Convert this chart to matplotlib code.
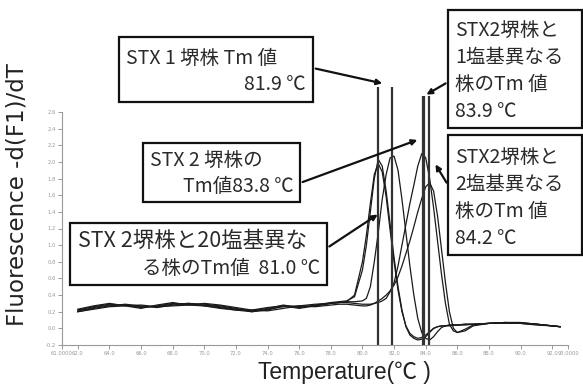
import matplotlib
matplotlib.use("Agg")
import matplotlib.pyplot as plt
from matplotlib.patches import Rectangle

# ---------------- data ----------------
temps = [62, 63, 64, 65, 66, 67, 68, 69, 70, 71, 72, 73, 74, 75, 76, 77, 78, 78.5,
         79, 79.5, 80, 80.25, 80.5, 80.75, 81, 81.25, 81.5, 81.75, 82, 82.25, 82.5, 82.75,
         83, 83.25, 83.5, 83.75, 84, 84.25, 84.5, 84.75, 85, 85.25, 85.5, 85.75, 86,
         86.5, 87, 88, 89, 90, 91, 92, 92.5]

curve_a = [0.22, 0.26, 0.29, 0.28, 0.25, 0.27, 0.30, 0.29, 0.28, 0.26, 0.23, 0.21, 0.24, 0.28, 0.25, 0.28, 0.31, 0.32,
           0.33, 0.38, 0.70, 1.00, 1.40, 1.80, 2.03, 1.95, 1.65, 1.25, 0.85, 0.50, 0.22, 0.02,
           -0.08, -0.12, -0.14, -0.13, -0.10, -0.05, 0.00, 0.02, 0.03, 0.03, 0.04, 0.04, 0.04,
           0.05, 0.05, 0.06, 0.07, 0.06, 0.04, 0.03, 0.02]
curve_a2 = [0.20, 0.24, 0.27, 0.29, 0.27, 0.25, 0.28, 0.30, 0.27, 0.24, 0.22, 0.20, 0.23, 0.26, 0.27, 0.29, 0.30, 0.31,
            0.32, 0.40, 0.80, 1.12, 1.50, 1.85, 1.98, 1.88, 1.58, 1.18, 0.80, 0.46, 0.20, 0.03,
            -0.06, -0.10, -0.12, -0.11, -0.08, -0.04, 0.00, 0.02, 0.03, 0.03, 0.03, 0.04, 0.04,
            0.04, 0.05, 0.06, 0.06, 0.06, 0.05, 0.03, 0.02]
curve_b = [0.23, 0.27, 0.30, 0.27, 0.24, 0.28, 0.31, 0.28, 0.27, 0.25, 0.22, 0.22, 0.25, 0.27, 0.24, 0.27, 0.30, 0.31,
           0.32, 0.32, 0.33, 0.36, 0.50, 0.80, 1.15, 1.55, 1.85, 2.05, 2.07, 1.90, 1.55, 1.15,
           0.75, 0.40, 0.12, -0.05, -0.12, -0.14, -0.10, -0.04, 0.01, 0.03, 0.04, 0.04, 0.04,
           0.05, 0.05, 0.06, 0.07, 0.07, 0.05, 0.03, 0.02]
curve_c = [0.21, 0.25, 0.28, 0.28, 0.26, 0.26, 0.29, 0.30, 0.29, 0.27, 0.24, 0.20, 0.22, 0.27, 0.26, 0.27, 0.30, 0.31,
           0.31, 0.30, 0.29, 0.29, 0.29, 0.30, 0.31, 0.33, 0.36, 0.44, 0.55, 0.75, 1.00, 1.25,
           1.50, 1.72, 1.95, 2.10, 2.05, 1.80, 1.45, 1.05, 0.65, 0.30, 0.05, -0.03, -0.05,
           -0.01, 0.04, 0.06, 0.07, 0.06, 0.05, 0.03, 0.02]
curve_d = [0.20, 0.23, 0.26, 0.27, 0.28, 0.26, 0.27, 0.28, 0.30, 0.28, 0.25, 0.22, 0.21, 0.24, 0.27, 0.26, 0.28, 0.29,
           0.29, 0.28, 0.27, 0.27, 0.28, 0.30, 0.33, 0.36, 0.40, 0.45, 0.52, 0.62, 0.75, 0.90,
           1.05, 1.22, 1.40, 1.56, 1.70, 1.75, 1.65, 1.35, 0.95, 0.55, 0.20, 0.00, -0.05,
           -0.03, 0.03, 0.06, 0.07, 0.07, 0.05, 0.03, 0.02]
curves = [curve_a, curve_a2, curve_b, curve_c, curve_d]

tm_values = [81.0, 81.9, 83.8, 83.9, 84.2]

x_ticks = [61, 62, 64, 66, 68, 70, 72, 74, 76, 78, 80, 82, 84, 86, 88, 90, 92, 93]
x_tick_labels = ["61.0000", "62.0", "64.0", "66.0", "68.0", "70.0", "72.0", "74.0", "76.0",
                 "78.0", "80.0", "82.0", "84.0", "86.0", "88.0", "90.0", "92.0", "93.0000"]
y_ticks = [-0.2, 0.0, 0.2, 0.4, 0.6, 0.8, 1.0, 1.2, 1.4, 1.6, 1.8, 2.0, 2.2, 2.4, 2.6]
y_tick_labels = ["-0.2", "0.0", "0.2", "0.4", "0.6", "0.8", "1.0", "1.2", "1.4", "1.6",
                 "1.8", "2.0", "2.2", "2.4", "2.6"]

box_texts = [
    ["STX 1 堺株 Tm 値", "81.9 ℃"],
    ["STX 2 堺株の", "Tm値83.8 ℃"],
    ["STX2堺株と", "1塩基異なる", "株のTm 値", "83.9 ℃"],
    ["STX2堺株と", "2塩基異なる", "株のTm 値", "84.2 ℃"],
    ["STX 2堺株と20塩基異な", "る株のTm値  81.0 ℃"],
]
x_label = "Temperature(℃ )"
y_label = "Fluorescence -d(F1)/dT"

# ---------------- drawing ----------------
W, H = 583, 388
CJK = ["Noto Sans CJK JP", "DejaVu Sans"]
LAT = ["Liberation Sans", "Noto Sans CJK JP", "DejaVu Sans"]
WIDE = ["DejaVu Sans", "Noto Sans CJK JP"]

fig = plt.figure(figsize=(W / 100, H / 100), dpi=100)
ax = fig.add_axes([62 / W, 1 - 345 / H, (568 - 62) / W, (345 - 112) / H])

for c in curves:
    ax.plot(temps, c, color="#1a1a1a", lw=0.9)

tops = [2.90, 2.90, 2.79, 2.79, 2.79]
for t, top in zip(tm_values, tops):
    ax.vlines(t, -0.2, top, colors="#333333", lw=1.6, clip_on=False, zorder=3)

ax.set_xlim(61, 93)
ax.set_ylim(-0.2, 2.6)
ax.set_xticks(x_ticks)
ax.set_xticklabels(x_tick_labels, fontsize=3.8, color="#999999")
ax.set_yticks(y_ticks)
ax.set_yticklabels(y_tick_labels, fontsize=3.8, color="#999999")
ax.tick_params(axis="both", length=3, width=0.6, color="#888888", pad=1.5)
for s in ["top", "right"]:
    ax.spines[s].set_visible(False)
for s in ["left", "bottom"]:
    ax.spines[s].set_color("#999999")
    ax.spines[s].set_linewidth(0.8)

fig.text(17 / W, 1 - 195 / H, y_label, rotation=90, fontsize=16.5, family=WIDE,
         ha="center", va="center", color="#222222")
fig.text(344 / W, 1 - 373 / H, x_label, fontsize=16.5, family=LAT,
         ha="center", va="center", color="#222222")


def fx(px):
    return px / W


def fy(py):
    return 1 - py / H


def box(x0, y0, x1, y1, lw=1.6):
    fig.add_artist(Rectangle((fx(x0), fy(y1)), fx(x1) - fx(x0), fy(y0) - fy(y1),
                             transform=fig.transFigure, fill=True, facecolor="white",
                             edgecolor="#111111", lw=lw, zorder=5))


def line_text(px, py, s, ha="left", size=14):
    fig.text(fx(px), fy(py), s, ha=ha, va="center", fontsize=size, family=CJK,
             color="#2a2a2a", zorder=6)


def arrow(p0, p1):
    fig.add_artist(matplotlib.patches.FancyArrowPatch(
        (fx(p0[0]), fy(p0[1])), (fx(p1[0]), fy(p1[1])), transform=fig.transFigure,
        arrowstyle="-|>", mutation_scale=8, lw=1.6, color="#111111", zorder=4))


# box 1
box(119, 37, 313, 102)
line_text(126, 58, box_texts[0][0])
line_text(306, 85, box_texts[0][1], ha="right")
arrow((313, 68), (385, 84))

# box 2
box(143, 143, 300, 202)
line_text(150, 160, box_texts[1][0])
line_text(294, 186, box_texts[1][1], ha="right")
arrow((300, 183), (420, 139))

# box 3
box(448, 10, 582, 128)
for i, s in enumerate(box_texts[2]):
    line_text(455, 30 + i * 27.3, s)
arrow((448, 82), (424, 96))

# box 4
box(448, 135, 582, 255)
for i, s in enumerate(box_texts[3]):
    line_text(455, 157 + i * 27.3, s)
arrow((448, 185), (434, 162))

# box 5
box(70, 223, 327, 285)
line_text(78, 241, box_texts[4][0], size=15.5)
line_text(320, 268, box_texts[4][1], ha="right")
arrow((327, 248), (380, 213))

fig.savefig("out.png", dpi=100, facecolor="white")
